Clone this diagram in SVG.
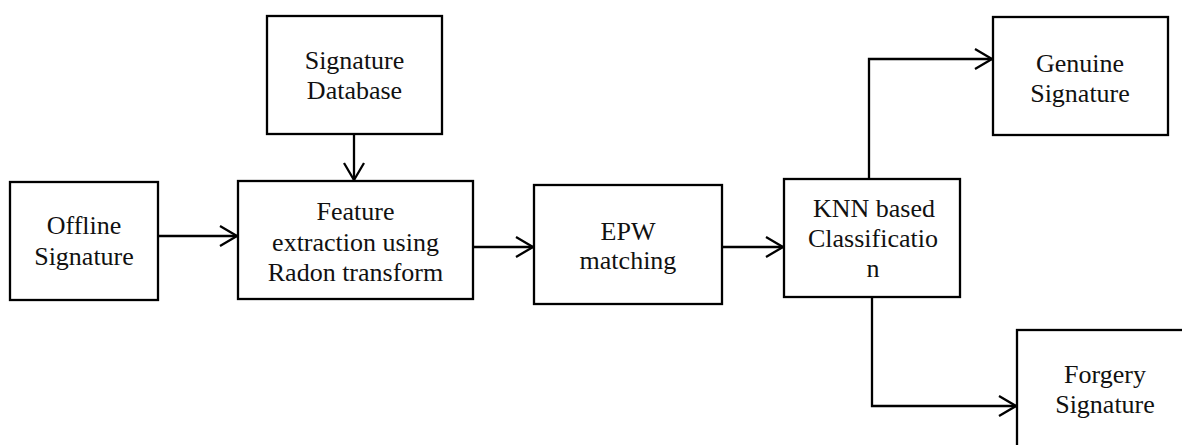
<svg xmlns="http://www.w3.org/2000/svg" width="1182" height="445" viewBox="0 0 1182 445">
  <style>
    .box { fill: #ffffff; stroke: #000000; stroke-width: 2.3; }
    .lbl { font-family: 'Liberation Serif', 'Times New Roman', Tinos, 'DejaVu Serif', serif; font-size: 26px; fill: #111111; text-anchor: middle; }
    .wire { fill: none; stroke: #000000; stroke-width: 2.3; }
    .head { fill: none; stroke: #000000; stroke-width: 2.3; stroke-linejoin: miter; }
  </style>
  <rect width="1182" height="445" fill="#ffffff"/>

  <g id="connectors">
    <!-- Offline -> Feature -->
    <line class="wire" x1="158" y1="236" x2="237" y2="236"/>
    <polyline class="head" points="220,226 237,236 220,246"/>
    <!-- Database -> Feature -->
    <line class="wire" x1="354" y1="134" x2="354" y2="180"/>
    <polyline class="head" points="344,163 354,180 364,163"/>
    <!-- Feature -> EPW -->
    <line class="wire" x1="473" y1="247" x2="533" y2="247"/>
    <polyline class="head" points="516,237 533,247 516,257"/>
    <!-- EPW -> KNN -->
    <line class="wire" x1="722" y1="247" x2="783" y2="247"/>
    <polyline class="head" points="766,237 783,247 766,257"/>
    <!-- KNN -> Genuine -->
    <polyline class="wire" points="869,179 869,59 992,59"/>
    <polyline class="head" points="975,49 992,59 975,69"/>
    <!-- KNN -> Forgery -->
    <polyline class="wire" points="872,297 872,406 1016,406"/>
    <polyline class="head" points="999,396 1016,406 999,416"/>
  </g>

  <g id="offline">
    <rect class="box" x="10" y="182" width="148" height="118"/>
    <text class="lbl" x="84" y="234">Offline</text>
    <text class="lbl" x="84" y="265">Signature</text>
  </g>

  <g id="database">
    <rect class="box" x="267" y="16" width="175" height="118"/>
    <text class="lbl" x="354.5" y="69">Signature</text>
    <text class="lbl" x="354.5" y="99">Database</text>
  </g>

  <g id="feature">
    <rect class="box" x="238" y="181" width="235" height="118"/>
    <text class="lbl" x="355.5" y="220">Feature</text>
    <text class="lbl" x="355.5" y="251">extraction using</text>
    <text class="lbl" x="355.5" y="281">Radon transform</text>
  </g>

  <g id="epw">
    <rect class="box" x="534" y="185" width="188" height="119"/>
    <text class="lbl" x="628" y="240">EPW</text>
    <text class="lbl" x="628" y="269">matching</text>
  </g>

  <g id="knn">
    <rect class="box" x="784" y="179" width="176" height="118"/>
    <text class="lbl" x="874" y="217">KNN based</text>
    <text class="lbl" x="873" y="247">Classificatio</text>
    <text class="lbl" x="873" y="277">n</text>
  </g>

  <g id="genuine">
    <rect class="box" x="993" y="17" width="175" height="118"/>
    <text class="lbl" x="1080" y="72">Genuine</text>
    <text class="lbl" x="1080" y="102">Signature</text>
  </g>

  <g id="forgery">
    <rect class="box" x="1017" y="330" width="178" height="125"/>
    <text class="lbl" x="1105" y="383">Forgery</text>
    <text class="lbl" x="1105" y="413">Signature</text>
  </g>
</svg>
